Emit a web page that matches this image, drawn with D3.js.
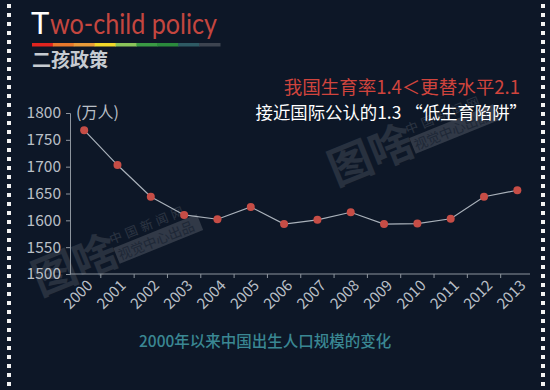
<!DOCTYPE html>
<html>
<head>
<meta charset="utf-8">
<script src="https://cdn.jsdelivr.net/npm/d3@7"></script>
<style>
  body { margin: 0; background: #0d1727; }
  svg { display: block; }
  text { font-family: "Noto Sans CJK SC", "Noto Sans", sans-serif; }
</style>
</head>
<body>
<svg id="chart"></svg>
<script>
const width = 550;
const height = 390;

// data
const years = ["2000", "2001", "2002", "2003", "2004", "2005", "2006",
  "2007", "2008", "2009", "2010", "2011", "2012", "2013"];
const births = [1768, 1703, 1644, 1610, 1602, 1625, 1593,
  1601, 1615, 1593, 1594, 1603, 1644, 1656];
const yTicks = [1500, 1550, 1600, 1650, 1700, 1750, 1800];
const rainbow = ["#e0241f", "#e8782c", "#e89c3a", "#f0d82a", "#8bc45a",
  "#3a9a44", "#2a8a3c", "#2e5a64", "#3d4450"];

const svg = d3.select("#chart")
  .attr("width", width)
  .attr("height", height);

svg.append("rect")
  .attr("width", width)
  .attr("height", height)
  .attr("fill", "#0d1727");

// film strip dots on both sides
const dotRows = d3.range(0, 44);
["left", "right"].forEach(side => {
  svg.append("g")
    .selectAll("rect")
    .data(dotRows)
    .enter()
    .append("rect")
    .attr("x", side === "left" ? 7 : 541)
    .attr("y", d => 4 + d * 9)
    .attr("width", 4)
    .attr("height", 4)
    .attr("fill", "#f2f2f2");
});

// watermark (faint)
function watermark(tx, ty) {
  const g = svg.append("g")
    .attr("transform", `translate(${tx},${ty}) rotate(-22)`)
    .attr("fill", "#ffffff");
  g.append("text")
    .attr("font-size", 44).attr("font-weight", 700)
    .attr("opacity", 0.11)
    .text("图啥");
  g.append("text")
    .attr("x", 86).attr("y", -21)
    .attr("font-size", 12.5)
    .attr("letter-spacing", 4)
    .attr("opacity", 0.12)
    .text("中国新闻网");
  g.append("rect")
    .attr("x", 86).attr("y", -17)
    .attr("width", 90).attr("height", 17)
    .attr("opacity", 0.15);
  g.append("text")
    .attr("x", 88).attr("y", -3)
    .attr("font-size", 13.5)
    .attr("fill", "#0d1727")
    .attr("opacity", 0.5)
    .text("视觉中心出品");
}
watermark(336, 186);
watermark(40, 296);

// title
svg.append("text")
  .attr("x", 31)
  .attr("y", 34)
  .attr("fill", "#ffffff")
  .attr("font-size", 31)
  .style("font-family", "Lato, sans-serif")
  .text("T");
svg.append("text")
  .attr("x", 50)
  .attr("y", 34)
  .attr("fill", "#c4463f")
  .attr("font-size", 28)
  .attr("textLength", 167)
  .attr("lengthAdjust", "spacingAndGlyphs")
  .style("font-family", "Lato, sans-serif")
  .text("wo-child policy");

const barX = d3.scaleBand()
  .domain(d3.range(rainbow.length))
  .range([32, 220]);

svg.append("g")
  .selectAll("rect")
  .data(rainbow)
  .enter()
  .append("rect")
  .attr("x", (d, i) => barX(i))
  .attr("y", 43)
  .attr("width", barX.bandwidth() + 0.5)
  .attr("height", 3.5)
  .attr("fill", d => d);

svg.append("text")
  .attr("x", 32)
  .attr("y", 67)
  .attr("fill", "#c6cbd1")
  .attr("font-size", 19)
  .attr("font-weight", 700)
  .text("二孩政策");

// annotations
svg.append("text")
  .attr("x", 520)
  .attr("y", 94)
  .attr("text-anchor", "end")
  .attr("fill", "#d0443d")
  .attr("font-size", 18.5)
  .text("我国生育率1.4＜更替水平2.1");

svg.append("text")
  .attr("x", 527)
  .attr("y", 119)
  .attr("text-anchor", "end")
  .attr("fill", "#ffffff")
  .attr("font-size", 17.4)
  .text("接近国际公认的1.3 “低生育陷阱”");

// scales
const x = d3.scaleBand()
  .domain(years)
  .range([67.5, 534]);

const y = d3.scaleLinear()
  .domain([1500, 1800])
  .range([274, 113]);

const axisColor = "#8d959e";
const labelColor = "#b9bfc6";

// y axis
const yAxis = svg.append("g")
  .attr("transform", "translate(70,0)")
  .call(d3.axisLeft(y).tickValues(yTicks).tickFormat(d3.format("d"))
    .tickSize(4).tickPadding(5));
yAxis.select(".domain").attr("stroke", axisColor);
yAxis.selectAll(".tick line").attr("stroke", axisColor);
yAxis.selectAll(".tick text")
  .attr("fill", labelColor)
  .attr("font-size", 15.5)
  .style("font-family", "'Noto Sans CJK SC', sans-serif");

svg.append("text")
  .attr("x", 76)
  .attr("y", 118)
  .attr("fill", labelColor)
  .attr("font-size", 16)
  .text("(万人)");

// x axis
const xAxis = svg.append("g")
  .attr("transform", "translate(0,274)")
  .call(d3.axisBottom(x).tickSize(0).tickPadding(0));
xAxis.select(".domain")
  .attr("stroke", axisColor)
  .attr("d", "M70,0H530");
xAxis.selectAll(".tick text")
  .attr("fill", labelColor)
  .attr("font-size", 15)
  .attr("text-anchor", "end")
  .attr("transform", "translate(2,5) rotate(-45)")
  .attr("dy", "0.7em")
  .style("font-family", "'Noto Sans CJK SC', sans-serif");

// boundary ticks between bands
svg.append("g")
  .selectAll("line")
  .data(years.slice(1))
  .enter()
  .append("line")
  .attr("x1", d => x(d))
  .attr("x2", d => x(d))
  .attr("y1", 274)
  .attr("y2", 278)
  .attr("stroke", axisColor);

// line and points
const cx = d => x(d) + x.bandwidth() / 2;
const pts = years.map((yr, i) => ({ year: yr, value: births[i] }));

svg.append("path")
  .datum(pts)
  .attr("fill", "none")
  .attr("stroke", "#aab2bb")
  .attr("stroke-width", 1.2)
  .attr("d", d3.line()
    .x(d => cx(d.year))
    .y(d => y(d.value)));

svg.append("g")
  .selectAll("circle")
  .data(pts)
  .enter()
  .append("circle")
  .attr("cx", d => cx(d.year))
  .attr("cy", d => y(d.value))
  .attr("r", 4)
  .attr("fill", "#c64d46");

// caption
svg.append("text")
  .attr("x", 139)
  .attr("y", 347)
  .attr("fill", "#3a8793")
  .attr("font-size", 15.5)
  .attr("font-weight", 500)
  .text("2000年以来中国出生人口规模的变化");
</script>
</body>
</html>
